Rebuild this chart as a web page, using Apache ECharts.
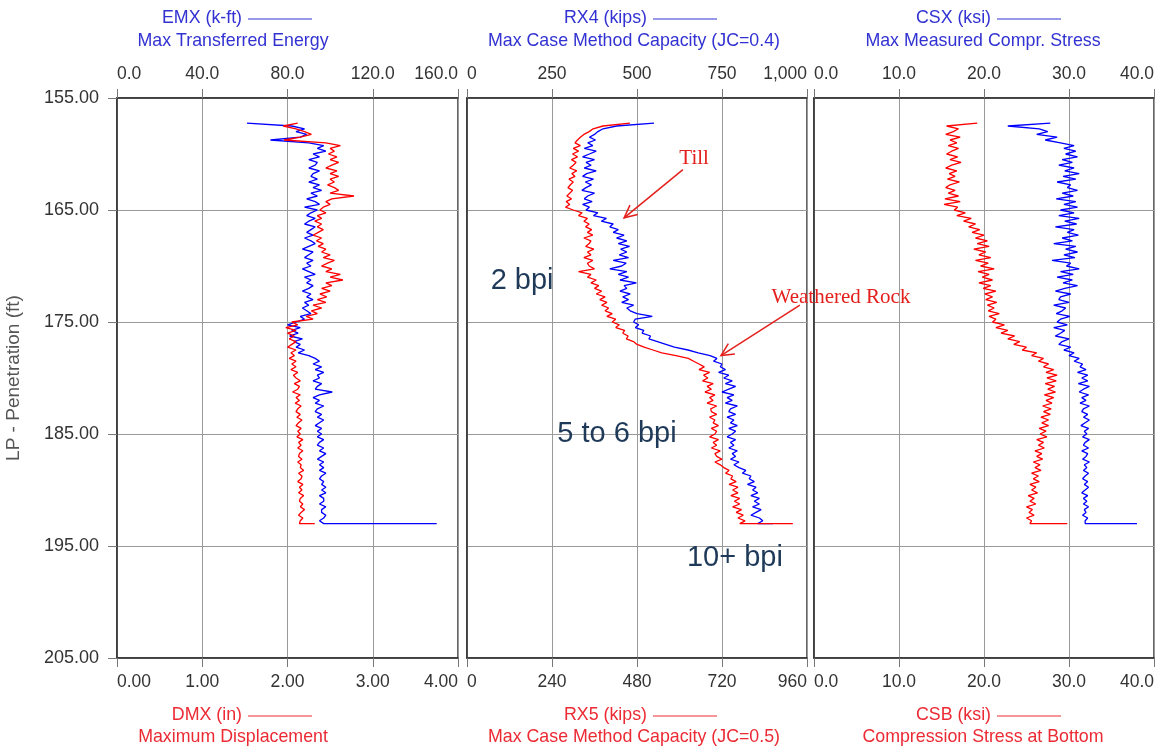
<!DOCTYPE html>
<html>
<head>
<meta charset="utf-8">
<script src="https://cdn.jsdelivr.net/npm/echarts@6/dist/echarts.min.js"></script>
<style>
html,body{margin:0;padding:0;background:#fff;}
#c{width:1157px;height:749px;}
</style>
</head>
<body>
<div id="c"></div>
<script>
// Depth (ft) shared by all curves
const depth = [157.25,157.5,157.75,
158,158.25,158.5,158.75, 159,159.25,159.5,159.75, 160,160.25,160.5,160.75, 161,161.25,161.5,161.75,
162,162.25,162.5,162.75, 163,163.25,163.5,163.75, 164,164.25,164.5,164.75, 165,165.25,165.5,165.75,
166,166.25,166.5,166.75, 167,167.25,167.5,167.75, 168,168.25,168.5,168.75, 169,169.25,169.5,169.75,
170,170.25,170.5,170.75, 171,171.25,171.5,171.75, 172,172.25,172.5,172.75, 173,173.25,173.5,173.75,
174,174.25,174.5,174.75, 175,175.25,175.5,175.75, 176,176.25,176.5,176.75, 177,177.25,177.5,177.75,
178,178.25,178.5,178.75, 179,179.25,179.5,179.75, 180,180.25,180.5,180.75, 181,181.25,181.5,181.75,
182,182.25,182.5,182.75, 183,183.25,183.5,183.75, 184,184.25,184.5,184.75, 185,185.25,185.5,185.75,
186,186.25,186.5,186.75, 187,187.25,187.5,187.75, 188,188.25,188.5,188.75, 189,189.25,189.5,189.75,
190,190.25,190.5,190.75, 191,191.25,191.5,191.75, 192,192.25,192.5,192.75, 193,193];

// EMX (k-ft) - Max Transferred Energy (blue, panel 1)
const emx = [61,82,88,
84,89,86,72, 90,97,94,98, 92,95,90,94, 93,90,95,92,
91,94,90,95, 92,96,91,94, 89,93,95,88, 94,91,89,93,
90,88,93,91, 89,92,88,91, 93,90,87,92, 90,88,92,89,
91,87,90,93, 88,91,89,92, 90,87,91,89, 92,88,90,87,
89,91,86,88, 84,80,86,82, 85,81,87,83, 86,84,88,85,
90,93,95,92, 96,93,97,94, 95,92,96,94, 93,101,95,92,
95,93,97,94, 93,96,94,97, 95,93,96,94, 96,94,97,95,
94,97,95,98, 96,94,97,95, 97,95,98,96, 95,97,96,98,
96,98,95,97, 97,95,98,96, 96,98,97,95, 97,150];

// DMX (in) - Maximum Displacement (red, panel 1)
const dmx = [2.12,1.95,2.10,
2.20,2.28,2.15,1.96, 2.45,2.62,2.50,2.55, 2.48,2.58,2.50,2.60, 2.52,2.45,2.58,2.50,
2.60,2.50,2.55,2.47, 2.55,2.60,2.50,2.78, 2.52,2.45,2.50,2.42, 2.38,2.45,2.35,2.40,
2.32,2.40,2.35,2.42, 2.36,2.30,2.40,2.34, 2.42,2.36,2.45,2.40, 2.50,2.42,2.55,2.47,
2.40,2.52,2.45,2.62, 2.50,2.65,2.45,2.52, 2.40,2.50,2.38,2.46, 2.35,2.45,2.30,2.40,
2.28,2.35,2.22,2.30, 2.05,2.12,1.98,2.10, 2.00,2.08,2.02,2.10, 2.05,2.00,2.10,2.04,
2.08,2.02,2.10,2.05, 2.10,2.04,2.12,2.07, 2.10,2.15,2.08,2.14, 2.12,2.06,2.15,2.10,
2.14,2.09,2.16,2.12, 2.10,2.15,2.11,2.17, 2.13,2.10,2.16,2.12, 2.15,2.11,2.18,2.13,
2.16,2.12,2.18,2.14, 2.13,2.17,2.12,2.16, 2.15,2.19,2.13,2.17, 2.16,2.12,2.18,2.14,
2.17,2.13,2.19,2.15, 2.14,2.18,2.15,2.20, 2.16,2.13,2.18,2.15, 2.14,2.32];

// RX4 (kips) - Max Case Method Capacity JC=0.4 (blue, panel 2)
const rx4 = [550,440,400,
385,375,360,378, 355,370,345,380, 360,340,375,350, 365,345,380,352,
340,372,348,366, 350,338,375,355, 345,368,340,360, 350,385,372,410,
395,430,420,445, 430,462,440,470, 445,478,452,470, 448,475,430,468,
455,420,470,445, 475,450,498,462, 470,450,480,458, 475,455,490,470,
480,500,545,495, 490,505,495,520, 515,540,535,560, 585,610,650,680,
715,735,725,750, 745,760,740,770, 755,780,760,790, 770,750,785,765,
780,760,795,775, 770,790,765,785, 775,795,770,790, 780,765,790,775,
785,770,795,780, 790,775,800,785, 800,820,810,835, 830,845,825,850,
840,855,835,860, 845,860,840,865, 850,835,860,870, 855,900];

// RX5 (kips) - Max Case Method Capacity JC=0.5 (red, panel 2)
const rx5 = [460,384,356,
345,330,320,312, 305,320,300,315, 298,312,295,308, 300,290,310,296,
305,288,300,292, 285,298,290,282, 295,280,290,278, 300,325,315,340,
330,345,335,352, 340,355,330,350, 345,335,358,340, 350,330,355,340,
345,360,315,350, 340,365,350,372, 360,380,365,390, 375,395,380,400,
390,410,395,420, 410,430,420,445, 440,455,450,470, 480,500,525,550,
590,625,640,655, 670,655,685,668, 680,665,695,678, 690,672,700,685,
695,678,705,688, 690,705,685,700, 695,710,690,705, 700,685,710,695,
705,690,715,700, 705,720,700,715, 725,740,730,750, 745,760,740,765,
750,765,745,770, 755,770,750,775, 760,780,765,785, 770,920];

// CSX (ksi) - Max Measured Compr. Stress (blue, panel 3)
const csx = [27.8,22.8,26.5,
27.5,26.2,28.6,27.2, 29.0,30.6,29.4,30.8, 29.6,31.0,29.2,30.4, 28.8,30.6,29.5,31.2,
29.3,30.8,28.6,30.2, 29.8,31.0,29.2,30.5, 28.5,30.8,29.4,31.0, 29.0,30.6,28.8,31.2,
29.5,30.9,28.4,30.6, 29.8,31.1,29.2,30.4, 28.2,30.8,29.6,31.0, 29.4,30.7,28.0,30.2,
29.7,31.2,29.0,30.5, 28.6,30.4,29.3,31.0, 29.5,28.4,30.2,29.0, 28.8,30.0,28.2,29.6,
29.2,28.5,30.1,29.0, 28.6,29.8,28.2,29.5, 29.0,28.4,30.0,29.2, 28.8,30.2,29.4,30.6,
30.0,31.2,30.6,31.6, 31.3,32.0,31.0,32.2, 31.5,32.2,31.1,32.4, 31.7,31.2,32.3,31.5,
32.0,31.3,32.4,31.7, 31.5,32.2,31.7,32.4, 31.9,31.4,32.3,31.8, 32.1,31.6,32.4,31.9,
31.7,32.3,31.5,32.2, 32.0,31.6,32.4,31.8, 32.1,31.7,32.3,31.9, 31.6,32.2,31.8,32.3,
31.9,31.5,32.2,31.7, 32.1,31.7,32.3,31.8, 32.0,31.6,32.2,31.9, 31.9,38.0];

// CSB (ksi) - Compression Stress at Bottom (red, panel 3)
const csb = [19.2,15.6,17.0,
16.4,15.5,17.2,16.0, 16.8,15.8,17.0,16.2, 15.6,16.9,16.0,17.3, 16.2,15.5,16.8,15.9,
16.6,15.7,17.1,16.0, 15.5,16.6,15.8,17.0, 15.4,17.2,15.3,16.9, 16.5,17.8,16.8,18.5,
17.6,19.0,18.2,19.5, 18.6,20.0,19.0,20.4, 19.2,20.6,18.8,20.2, 19.4,20.8,19.0,20.5,
19.6,21.2,19.3,20.6, 19.8,21.0,19.4,20.8, 19.9,21.4,20.1,21.0, 20.2,21.5,20.4,21.2,
20.5,21.8,20.6,21.4, 21.0,22.4,21.4,22.8, 22.0,23.6,22.8,24.2, 23.5,25.0,24.5,26.2,
25.6,27.0,26.4,27.6, 27.0,28.2,27.3,28.6, 27.4,28.5,27.2,28.3, 27.5,28.4,27.1,28.2,
27.3,28.0,26.9,27.9, 27.0,27.8,26.7,27.6, 26.8,27.6,26.5,27.3, 26.6,27.4,26.2,27.0,
26.4,27.1,26.0,26.8, 26.2,26.9,25.8,26.6, 26.0,26.7,25.6,26.4, 25.8,26.5,25.4,26.1,
25.6,26.3,25.2,25.9, 25.4,26.1,25.0,25.7, 25.3,25.9,25.0,25.6, 25.4,29.8];

// Axis ranges / ticks
const topMax = [160, 1000, 40], topInt = [40, 250, 10];
const botMax = [4, 960, 40], botInt = [1, 240, 10];
const depthMin = 155, depthMax = 205, depthInt = 10;

// Titles
const topTitles = [["EMX (k-ft)", "Max Transferred Energy"], ["RX4 (kips)", "Max Case Method Capacity (JC=0.4)"], ["CSX (ksi)", "Max Measured Compr. Stress"]];
const botTitles = [["DMX (in)", "Maximum Displacement"], ["RX5 (kips)", "Max Case Method Capacity (JC=0.5)"], ["CSB (ksi)", "Compression Stress at Bottom"]];

// Annotations (panel 2 coordinates: RX4 kips, depth ft)
const notes = [
  {text: "Till", at: [668, 160.4], serif: true},
  {text: "Weathered Rock", at: [1100, 172.8], serif: true},
  {text: "2 bpi", at: [162, 171.3]},
  {text: "5 to 6 bpi", at: [441, 185.0]},
  {text: "10+ bpi", at: [788, 196.1]}
];
const arrows = [
  {from: [635, 161.4], to: [462, 165.7]},
  {from: [979, 173.5], to: [747, 178.0]}
];

const BLUE = '#0000ff', RED = '#ff0000';
const TBLUE = '#3232d2', TRED = '#ec2a34';
const FONT = '"Liberation Sans", Arial, sans-serif';

const chart = echarts.init(document.getElementById('c'), null, {renderer: 'canvas'});

const gridPos = [{left: 117, width: 341}, {left: 467, width: 340}, {left: 814, width: 340}];
const grids = gridPos.map(g => ({left: g.left, width: g.width, top: 98, height: 560, show: true, borderColor: '#333', borderWidth: 1.5, backgroundColor: 'transparent', containLabel: false, outerBoundsMode: 'none'}));

const fmtTop = [v => v.toFixed(1), v => v.toLocaleString('en-US'), v => v.toFixed(1)];
const fmtBot = [v => v.toFixed(2), v => String(v), v => v.toFixed(1)];

const xAxes = [], yAxes = [];
for (let i = 0; i < 3; i++) {
  xAxes.push({
    gridIndex: i, type: 'value', position: 'top', min: 0, max: topMax[i], interval: topInt[i],
    axisLine: {show: true, lineStyle: {color: '#333', width: 1.5}},
    axisTick: {show: true, length: 9, lineStyle: {color: '#777'}},
    axisLabel: {color: '#333', fontSize: 17.5, fontFamily: FONT, margin: 15, formatter: fmtTop[i], alignMinLabel: 'left', alignMaxLabel: 'right', showMinLabel: true, showMaxLabel: true},
    splitLine: {show: true, lineStyle: {color: '#9a9a9a', width: 1}}
  });
  xAxes.push({
    gridIndex: i, type: 'value', position: 'bottom', min: 0, max: botMax[i], interval: botInt[i],
    axisLine: {show: true, lineStyle: {color: '#333', width: 1.5}},
    axisTick: {show: true, length: 9, lineStyle: {color: '#777'}},
    axisLabel: {color: '#333', fontSize: 17.5, fontFamily: FONT, margin: 15, formatter: fmtBot[i], alignMinLabel: 'left', alignMaxLabel: 'right', showMinLabel: true, showMaxLabel: true},
    splitLine: {show: false}
  });
  yAxes.push({
    gridIndex: i, type: 'value', inverse: true, min: depthMin, max: depthMax, interval: depthInt,
    axisLine: {show: true, lineStyle: {color: '#333', width: 1.5}},
    axisTick: {show: i === 0, length: 9, lineStyle: {color: '#777'}},
    axisLabel: {show: i === 0, color: '#333', fontSize: 18, fontFamily: FONT, margin: 18, formatter: v => v.toFixed(2)},
    splitLine: {show: true, lineStyle: {color: '#9a9a9a', width: 1}},
    name: i === 0 ? 'LP - Penetration (ft)' : '',
    nameLocation: 'middle', nameGap: 94, nameRotate: 90,
    nameTextStyle: {color: '#555', fontSize: 19, fontFamily: FONT}
  });
}

const pairs = vals => vals.map((v, k) => [v, depth[k]]);
const mk = (data, color, xi, yi) => ({
  type: 'line', data: pairs(data), xAxisIndex: xi, yAxisIndex: yi,
  showSymbol: false, symbol: 'none', lineStyle: {color: color, width: 1.3}, itemStyle: {color: color},
  animation: false, silent: true
});
const series = [
  mk(emx, BLUE, 0, 0), mk(dmx, RED, 1, 0),
  mk(rx4, BLUE, 2, 1), mk(rx5, RED, 3, 1),
  mk(csx, BLUE, 4, 2), mk(csb, RED, 5, 2)
];

chart.setOption({
  backgroundColor: '#fff', animation: false,
  grid: grids, xAxis: xAxes, yAxis: yAxes, series: series
});

// Titles (layout)
const titleLayout = [
  {c: 233, ls: 248}, {c: 634, ls: 653}, {c: 983, ls: 997}
];
const TF = '17.8px ' + FONT;
const g = [];
for (let i = 0; i < 3; i++) {
  const L = titleLayout[i];
  [[topTitles[i], TBLUE, 18, 41], [botTitles[i], TRED, 715, 737]].forEach(([t, col, y1, y2]) => {
    g.push({type: 'text', x: L.ls - 6, y: y1, style: {text: t[0], fill: col, font: TF, textAlign: 'right', textVerticalAlign: 'middle'}});
    g.push({type: 'line', shape: {x1: L.ls, y1: y1 + 1, x2: L.ls + 64, y2: y1 + 1}, style: {stroke: col, lineWidth: 1.2}});
    g.push({type: 'text', x: L.c, y: y2, style: {text: t[1], fill: col, font: TF, textAlign: 'center', textVerticalAlign: 'middle'}});
  });
}
// Annotations
notes.forEach(n => {
  const p = chart.convertToPixel({seriesIndex: 2}, n.at);
  g.push({type: 'text', x: p[0], y: p[1], z: 10, style: n.serif ?
    {text: n.text, fill: '#e3201c', font: '21px "Liberation Serif", "Times New Roman", serif', textAlign: 'center', textVerticalAlign: 'middle'} :
    {text: n.text, fill: '#1f3a58', font: '29px ' + FONT, textAlign: 'center', textVerticalAlign: 'middle'}});
});
arrows.forEach(a => {
  const p0 = chart.convertToPixel({seriesIndex: 2}, a.from);
  const p1 = chart.convertToPixel({seriesIndex: 2}, a.to);
  const ang = Math.atan2(p1[1] - p0[1], p1[0] - p0[0]);
  const h = 14, sp = 0.45;
  const q1 = [p1[0] - h * Math.cos(ang - sp), p1[1] - h * Math.sin(ang - sp)];
  const q2 = [p1[0] - h * Math.cos(ang + sp), p1[1] - h * Math.sin(ang + sp)];
  g.push({type: 'line', z: 10, shape: {x1: p0[0], y1: p0[1], x2: p1[0], y2: p1[1]}, style: {stroke: '#e3201c', lineWidth: 1.5}});
  g.push({type: 'polyline', z: 10, shape: {points: [q1, p1, q2]}, style: {stroke: '#e3201c', lineWidth: 1.5, fill: null}});
});
chart.setOption({graphic: g});
</script>
</body>
</html>
